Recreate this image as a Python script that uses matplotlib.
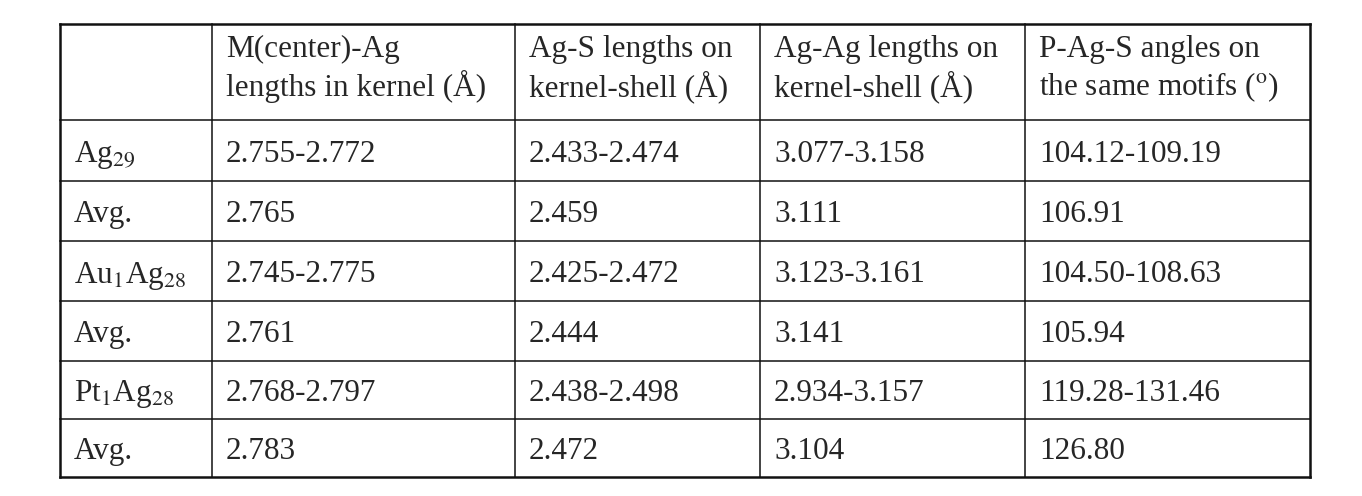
import matplotlib
matplotlib.use("Agg")
import matplotlib.pyplot as plt

plt.rcParams['font.family'] = ['Liberation Serif', 'DejaVu Serif']
plt.rcParams['mathtext.fontset'] = 'stix'

headers = ["", "M(center)-Ag\nlengths in kernel (Å)", "Ag-S lengths on\nkernel-shell (Å)",
           "Ag-Ag lengths on\nkernel-shell (Å)", "P-Ag-S angles on\nthe same motifs (${}^{\\rm o}$)"]
row_labels = [r"Ag$_{29}$", "Avg.", r"Au$_{1}$Ag$_{28}$", "Avg.", r"Pt$_{1}$Ag$_{28}$", "Avg."]
col1 = ["2.755-2.772", "2.765", "2.745-2.775", "2.761", "2.768-2.797", "2.783"]
col2 = ["2.433-2.474", "2.459", "2.425-2.472", "2.444", "2.438-2.498", "2.472"]
col3 = ["3.077-3.158", "3.111", "3.123-3.161", "3.141", "2.934-3.157", "3.104"]
col4 = ["104.12-109.19", "106.91", "104.50-108.63", "105.94", "119.28-131.46", "126.80"]

xs = [60, 212, 515, 760, 1025, 1310]
ys = [24, 120, 181, 241, 301, 361, 419, 477]

fig = plt.figure(figsize=(13.62, 4.96), dpi=100)
ax = fig.add_axes([0, 0, 1, 1])
ax.set_xlim(0, 1362)
ax.set_ylim(496, 0)
ax.axis('off')

lc = '#111111'
for i, x in enumerate(xs):
    ax.plot([x, x], [ys[0], ys[-1]], color=lc, lw=1.8 if i in (0, len(xs) - 1) else 1.1)
for i, y in enumerate(ys):
    ax.plot([xs[0], xs[-1]], [y, y], color=lc, lw=1.8 if i in (0, len(ys) - 1) else 1.1)

tc = '#262626'
fs = 22.5
for j, h in enumerate(headers):
    if h:
        l1, l2 = h.split("\n")
        ax.text(xs[j] + 14, 46, l1, fontsize=fs, color=tc, ha='left', va='center_baseline')
        ax.text(xs[j] + 14, 83, l2, fontsize=fs, color=tc, ha='left', va='center_baseline')

cols = [row_labels, col1, col2, col3, col4]
for j, col in enumerate(cols):
    for i, v in enumerate(col):
        ax.text(xs[j] + 14, (ys[i + 1] + ys[i + 2]) / 2, v, fontsize=fs, color=tc,
                ha='left', va='center_baseline')

fig.savefig("out.png", dpi=100, facecolor='white')
